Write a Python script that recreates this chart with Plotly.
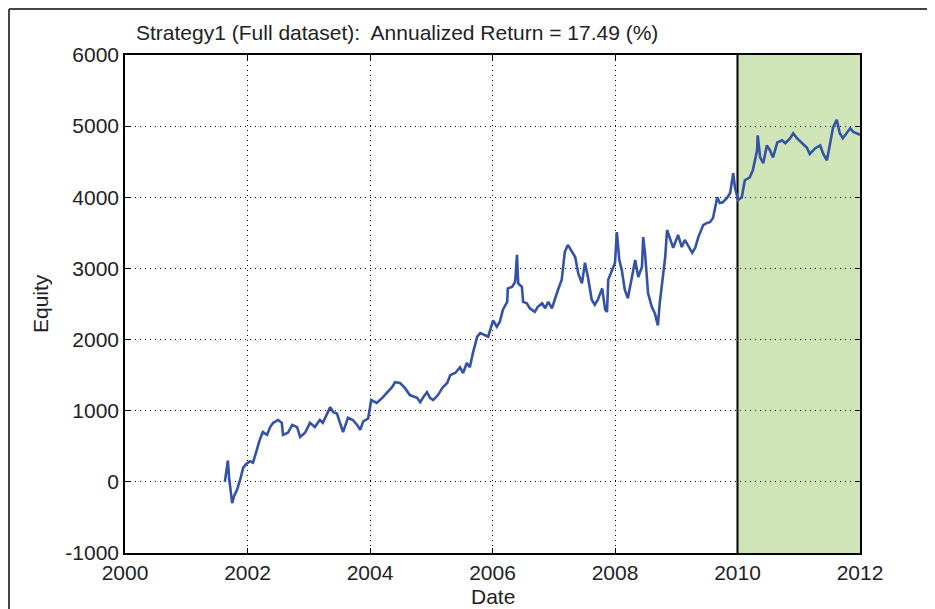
import plotly.graph_objects as go

# Decimal-year dates and equity values
dates = [
    2001.63, 2001.65, 2001.68, 2001.70, 2001.73, 2001.75, 2001.78, 2001.83, 2001.88, 2001.93,
    2001.98, 2002.04, 2002.09, 2002.16, 2002.20, 2002.25, 2002.32, 2002.37, 2002.42, 2002.50,
    2002.56, 2002.58, 2002.66, 2002.73, 2002.81, 2002.86, 2002.94, 2003.02, 2003.10, 2003.18,
    2003.23, 2003.35, 2003.40, 2003.46, 2003.51, 2003.56, 2003.64, 2003.72, 2003.79, 2003.84,
    2003.89, 2003.97, 2004.02, 2004.11, 2004.20, 2004.28, 2004.36, 2004.41, 2004.49, 2004.57,
    2004.65, 2004.77, 2004.82, 2004.87, 2004.93, 2004.98, 2005.03, 2005.11, 2005.18, 2005.26,
    2005.31, 2005.39, 2005.47, 2005.52, 2005.58, 2005.63, 2005.68, 2005.75, 2005.80, 2005.88,
    2005.93, 2005.96, 2006.01, 2006.07, 2006.12, 2006.17, 2006.24, 2006.25, 2006.32, 2006.37,
    2006.40, 2006.42, 2006.48, 2006.50, 2006.56, 2006.61, 2006.69, 2006.74, 2006.81, 2006.86,
    2006.91, 2006.97, 2007.02, 2007.07, 2007.13, 2007.18, 2007.23, 2007.30, 2007.35, 2007.40,
    2007.46, 2007.51, 2007.56, 2007.62, 2007.67, 2007.72, 2007.79, 2007.84, 2007.87, 2007.89,
    2007.95, 2008.00, 2008.03, 2008.07, 2008.11, 2008.16, 2008.21, 2008.28, 2008.33, 2008.38,
    2008.44, 2008.46, 2008.49, 2008.54, 2008.60, 2008.65, 2008.70, 2008.73, 2008.77, 2008.82,
    2008.85, 2008.90, 2008.95, 2009.03, 2009.09, 2009.14, 2009.19, 2009.26, 2009.31, 2009.36,
    2009.44, 2009.50, 2009.55, 2009.60, 2009.67, 2009.71, 2009.76, 2009.83, 2009.88, 2009.93,
    2009.96, 2010.01, 2010.07, 2010.12, 2010.20, 2010.25, 2010.32, 2010.33, 2010.37, 2010.42,
    2010.48, 2010.53, 2010.58, 2010.65, 2010.73, 2010.78, 2010.86, 2010.91, 2010.97, 2011.05,
    2011.13, 2011.18, 2011.27, 2011.35, 2011.40, 2011.46, 2011.51, 2011.56, 2011.62, 2011.67,
    2011.72, 2011.79, 2011.84, 2011.89, 2011.95, 2012.00,
]
equity = [
    0, 100, 300, 50, -150, -300, -200, -110, 30, 200,
    250, 290, 270, 500, 590, 700, 660, 770, 830, 870,
    830, 660, 690, 800, 770, 630, 690, 830, 770, 870,
    830, 1050, 980, 960, 830, 700, 900, 870, 800, 730,
    850, 890, 1150, 1110, 1180, 1250, 1330, 1400, 1390, 1320,
    1220, 1180, 1120, 1190, 1260, 1180, 1150, 1220, 1320, 1390,
    1500, 1530, 1610, 1530, 1670, 1610, 1810, 2040, 2090, 2060,
    2040, 2130, 2270, 2180, 2250, 2420, 2530, 2720, 2740, 2810,
    3190, 2790, 2740, 2530, 2510, 2440, 2390, 2460, 2510, 2440,
    2530, 2440, 2580, 2700, 2840, 3230, 3330, 3230, 3160, 2930,
    2790, 3080, 2870, 2560, 2490, 2560, 2720, 2420, 2390, 2840,
    2980, 3080, 3510, 3120, 2980, 2700, 2580, 2880, 3120, 2880,
    3020, 3440, 3220, 2650, 2460, 2370, 2200, 2510, 2790, 3160,
    3540, 3400, 3290, 3470, 3300, 3400, 3330, 3220, 3290, 3440,
    3610, 3640, 3650, 3710, 4000, 3920, 3930, 3990, 4060, 4340,
    4130, 3960, 4000, 4240, 4280, 4380, 4660, 4870, 4560, 4480,
    4730, 4660, 4560, 4770, 4800, 4760, 4830, 4900, 4830, 4770,
    4700, 4610, 4690, 4730, 4610, 4520, 4730, 4980, 5090, 4900,
    4830, 4920, 4970, 4920, 4900, 4880,
]

x_ticks = [2000, 2002, 2004, 2006, 2008, 2010, 2012]
y_ticks = [-1000, 0, 1000, 2000, 3000, 4000, 5000, 6000]
test_start = 2010
test_end = 2012
title_text = "Strategy1 (Full dataset):  Annualized Return = 17.49 (%)"

FONT = "Liberation Sans, Arial, sans-serif"
fsize = 21

fig = go.Figure()
fig.add_trace(go.Scatter(
    x=dates, y=equity, mode="lines",
    line=dict(color="#3452a8", width=2.6),
    showlegend=False, hoverinfo="skip",
))

axis_common = dict(
    showline=True, linecolor="black", linewidth=1.5, mirror="ticks",
    ticks="inside", ticklen=5, tickcolor="black", tickwidth=1,
    showgrid=True, gridcolor="black", gridwidth=1, griddash="1px,4px",
    zeroline=False, tickfont=dict(family=FONT, size=fsize, color="#222"),
)
fig.update_xaxes(range=[2000, 2012], tickvals=x_ticks, ticktext=[str(v) for v in x_ticks],
                 **axis_common)
fig.update_yaxes(range=[-1000, 6000], tickvals=y_ticks, ticktext=[str(v) for v in y_ticks],
                 **axis_common)

shapes = [
    dict(type="rect", xref="x", yref="paper", x0=test_start, x1=test_end, y0=0, y1=1,
         fillcolor="rgb(175,211,135)", opacity=0.6, line=dict(width=0), layer="between"),
    dict(type="line", xref="x", yref="paper", x0=test_start, x1=test_start, y0=0, y1=1,
         line=dict(color="black", width=2), layer="between"),
    # outer frame (top and left edges)
    dict(type="line", xref="paper", yref="paper", x0=-0.1578, x1=1.2, y0=1.0924, y1=1.0924,
         line=dict(color="#444", width=2)),
    dict(type="line", xref="paper", yref="paper", x0=-0.1578, x1=-0.1578, y0=1.0924, y1=-0.2,
         line=dict(color="#444", width=2)),
]

annotations = [
    dict(text=title_text, xref="paper", yref="paper", x=0.37, y=1.046,
         xanchor="center", yanchor="middle", showarrow=False,
         font=dict(family=FONT, size=fsize, color="#222")),
    dict(text="Equity", xref="paper", yref="paper", x=-0.1156, y=0.5, textangle=-90,
         xanchor="center", yanchor="middle", showarrow=False,
         font=dict(family=FONT, size=fsize, color="#222")),
    dict(text="Date", xref="paper", yref="paper", x=0.5, y=-0.088,
         xanchor="center", yanchor="middle", showarrow=False,
         font=dict(family=FONT, size=fsize, color="#222")),
]

fig.update_layout(
    width=935, height=609,
    margin=dict(l=117, r=83, t=47, b=64),
    paper_bgcolor="white", plot_bgcolor="white",
    shapes=shapes, annotations=annotations,
)

fig.write_html("out.html")
